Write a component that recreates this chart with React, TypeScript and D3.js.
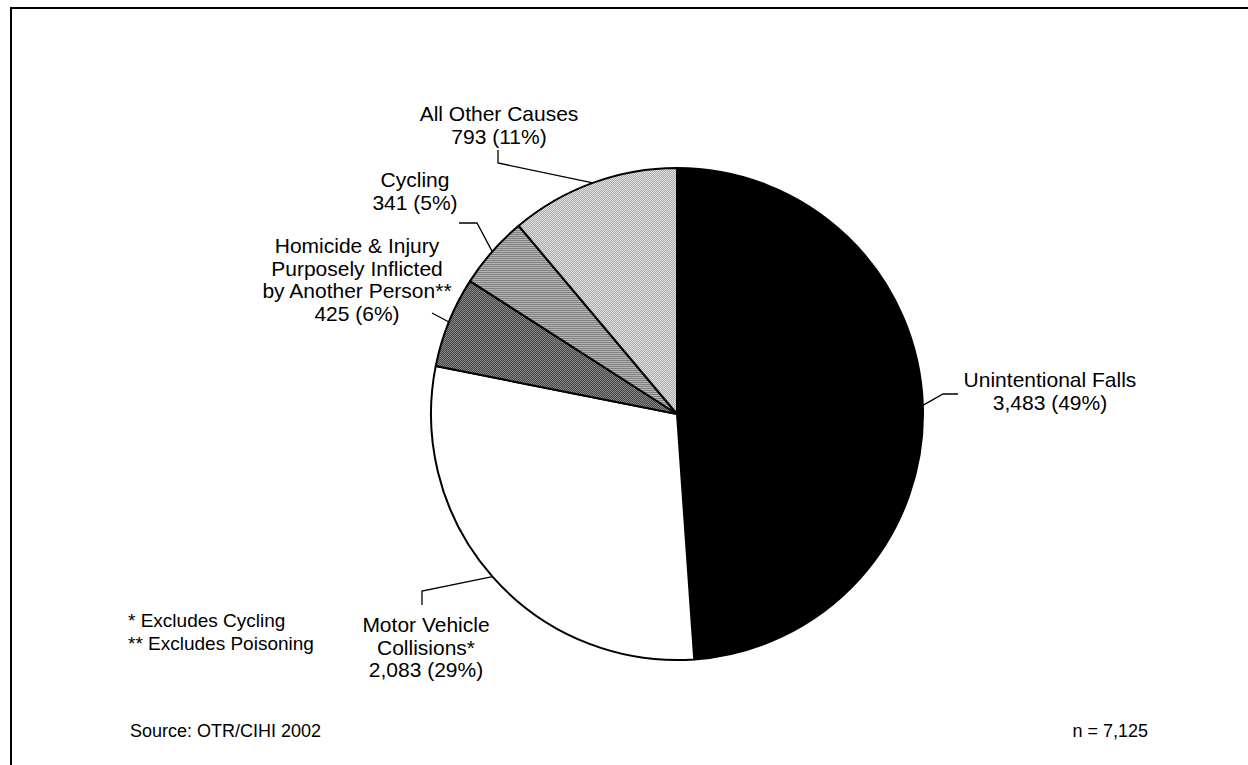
import React from "react";
import * as d3 from "d3";

const categories = [
  "Unintentional Falls",
  "Motor Vehicle Collisions*",
  "Homicide & Injury Purposely Inflicted by Another Person**",
  "Cycling",
  "All Other Causes",
];
const values = [3483, 2083, 425, 341, 793];
const nameLines = [
  ["Unintentional Falls"],
  ["Motor Vehicle", "Collisions*"],
  ["Homicide & Injury", "Purposely Inflicted", "by Another Person**"],
  ["Cycling"],
  ["All Other Causes"],
];
const footnotes = ["* Excludes Cycling", "** Excludes Poisoning"];
const sourceText = "Source: OTR/CIHI 2002";

const W = 1248;
const H = 765;
const cx = 677;
const cy = 414;
const R = 246;
const FONT = "'Liberation Sans', Arial, sans-serif";

// label layout: center x, first baseline, and leader bend points
const labelLayout = [
  { x: 1050, y: 387, bend: [[958, 394], [943, 394]] },
  { x: 426, y: 632, bend: [[422, 605], [422, 591]] },
  { x: 357, y: 253, bend: [[432, 313]] },
  { x: 415, y: 187, bend: [[459, 223], [477, 223]] },
  { x: 499, y: 121, bend: [[498, 150], [498, 163]] },
];

const fills = ["#000000", "#ffffff", "url(#patHom)", "url(#patCyc)", "url(#patOth)"];

export default function App() {
  const total = d3.sum(values);
  const pie = d3
    .pie<number>()
    .sort(null)
    .startAngle(0)
    .endAngle(2 * Math.PI);
  const arcs = pie(values);
  const arc = d3.arc<d3.PieArcDatum<number>>().innerRadius(0).outerRadius(R);
  const fmt = d3.format(",");
  const lh = 22.5;

  return (
    <svg
      width={W}
      height={H}
      style={{ position: "absolute", left: 0, top: 0, background: "#fff" }}
      fontFamily={FONT}
    >
      <defs>
        <pattern id="patHom" width="2" height="2" patternUnits="userSpaceOnUse">
          <rect width="2" height="2" fill="#888" />
          <rect width="1" height="1" fill="#444" />
          <rect x="1" y="1" width="1" height="1" fill="#444" />
        </pattern>
        <pattern id="patCyc" width="2" height="2" patternUnits="userSpaceOnUse">
          <rect width="2" height="1" fill="#808080" />
          <rect y="1" width="2" height="1" fill="#b4b4b4" />
        </pattern>
        <pattern id="patOth" width="2" height="2" patternUnits="userSpaceOnUse">
          <rect width="2" height="2" fill="#e2e2e2" />
          <rect width="1" height="1" fill="#aaaaaa" />
          <rect x="1" y="1" width="1" height="1" fill="#aaaaaa" />
        </pattern>
      </defs>
      <rect x={0} y={0} width={W} height={H} fill="#fff" />
      <rect x={11} y={8} width={W + 20} height={H + 20} fill="none" stroke="#000" strokeWidth={2} />

      <g transform={`translate(${cx},${cy})`}>
        {arcs.map((a, i) => (
          <path key={categories[i]} d={arc(a) || ""} fill={fills[i]} stroke="#000" strokeWidth={2} strokeLinejoin="round" />
        ))}
      </g>

      {arcs.map((a, i) => {
        const mid = (a.startAngle + a.endAngle) / 2;
        const ex = cx + R * Math.sin(mid);
        const ey = cy - R * Math.cos(mid);
        const L = labelLayout[i];
        const pts = [...L.bend, [ex, ey]];
        const line = d3.line()(pts as [number, number][]);
        const pct = Math.round((values[i] / total) * 100);
        const lines = [...nameLines[i], `${fmt(values[i])} (${pct}%)`];
        return (
          <g key={"lab" + i}>
            <path d={line || ""} fill="none" stroke="#000" strokeWidth={1.3} />
            <text x={L.x} y={L.y} textAnchor="middle" fontSize={21} fill="#000">
              {lines.map((t, j) => (
                <tspan key={j} x={L.x} y={L.y + j * lh}>
                  {t}
                </tspan>
              ))}
            </text>
          </g>
        );
      })}

      {footnotes.map((f, i) => (
        <text key={f} x={128} y={627 + i * 23} fontSize={19} fill="#000">
          {f}
        </text>
      ))}
      <text x={130} y={737} fontSize={18} fill="#000">
        {sourceText}
      </text>
      <text x={1148} y={737} fontSize={18} textAnchor="end" fill="#000">
        {`n = ${fmt(total)}`}
      </text>
    </svg>
  );
}
